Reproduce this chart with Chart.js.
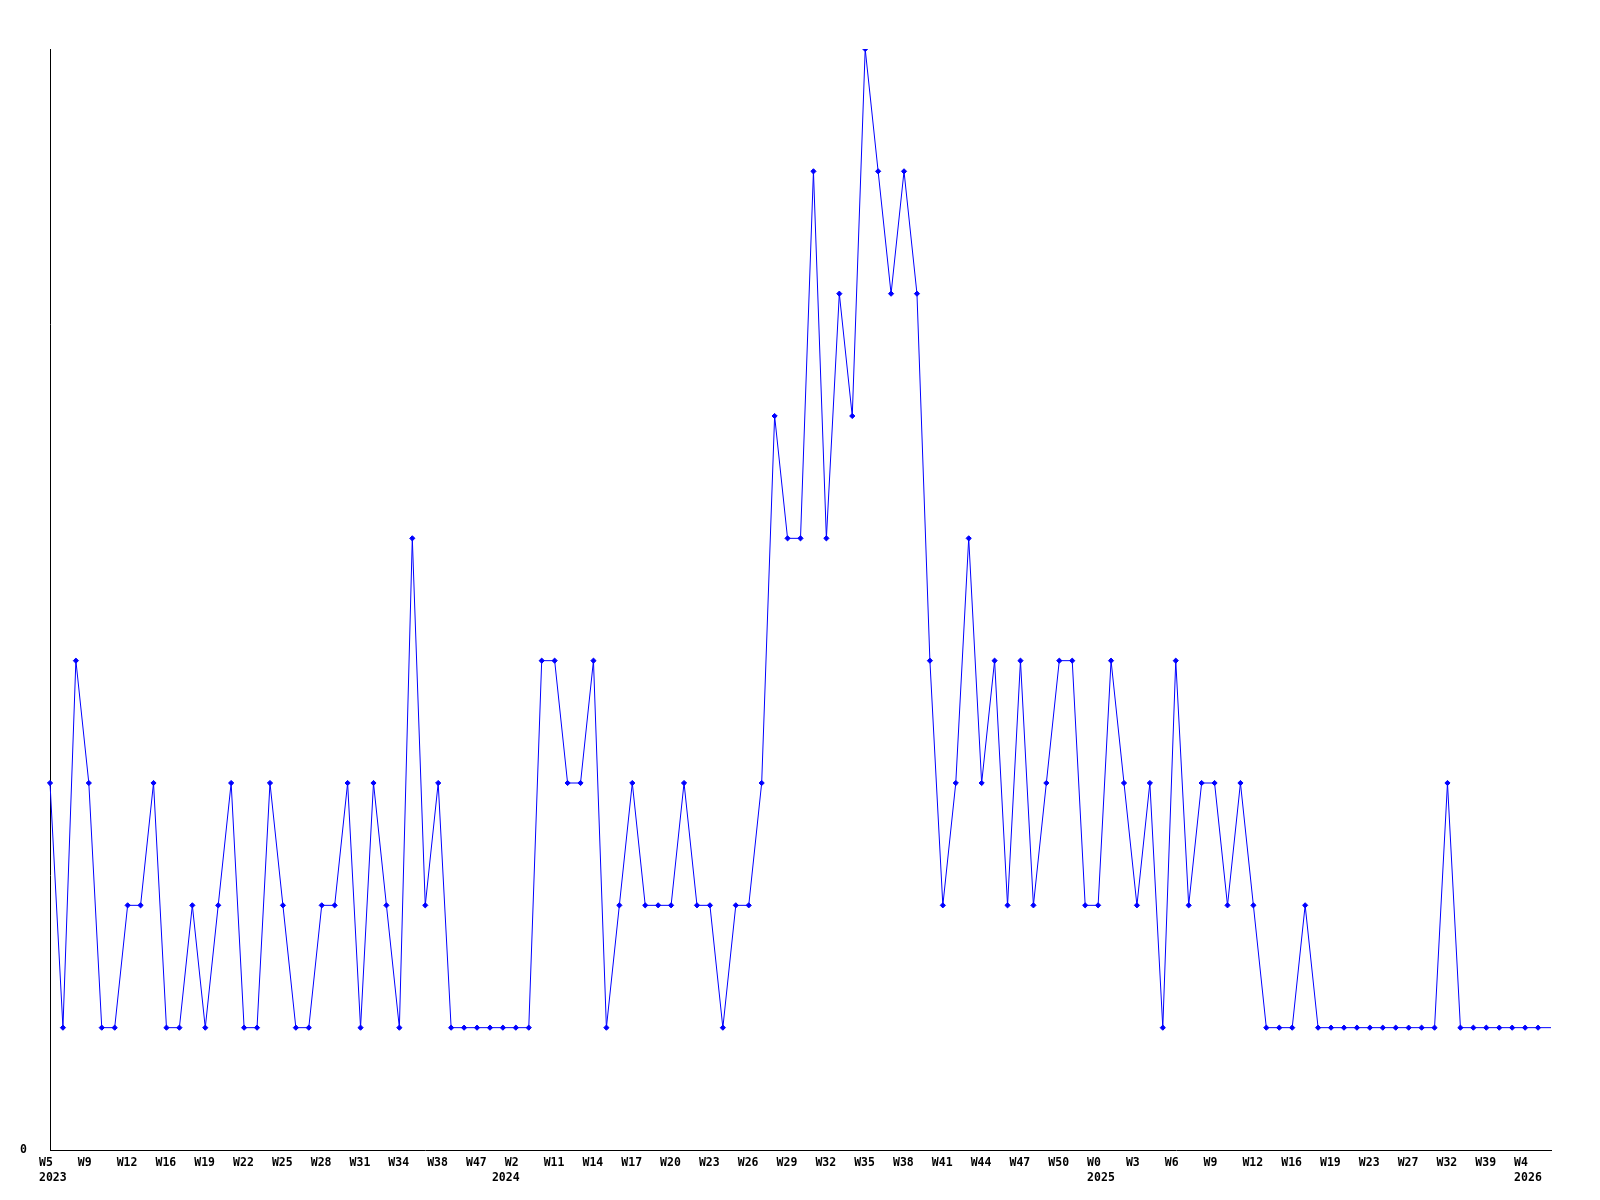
<!DOCTYPE html>
<html>
<head>
<meta charset="utf-8">
<script src="https://cdn.jsdelivr.net/npm/chart.js@4/dist/chart.umd.min.js"></script>
<style>
  html, body { margin: 0; padding: 0; background: #ffffff; }
  #wrap { width: 1600px; height: 1200px; }
</style>
</head>
<body>
<div id="wrap"><canvas id="c" width="1600" height="1200"></canvas></div>
<script>
// Week tick labels: one every third point
const tickLabels = ['W5','W9','W12','W16','W19','W22','W25','W28','W31','W34','W38','W47','W2',
  'W11','W14','W17','W20','W23','W26','W29','W32','W35','W38','W41','W44','W47','W50','W0',
  'W3','W6','W9','W12','W16','W19','W23','W27','W32','W39','W4'];
// Year labels, keyed by the point index where the year starts
const yearLabels = { 0: '2023', 35: '2024', 81: '2025', 114: '2026' };

// Series values (one per point)
const values = [
  3,1,4,3,1,1,2,2,3,1,
  1,2,1,2,3,1,1,3,2,1,
  1,2,2,3,1,3,2,1,5,2,
  3,1,1,1,1,1,1,1,4,4,
  3,3,4,1,2,3,2,2,2,3,
  2,2,1,2,2,3,6,5,5,8,
  5,7,6,9,8,7,8,7,4,2,
  3,5,3,4,2,4,2,3,4,4,
  2,2,4,3,2,3,1,4,2,3,
  3,2,3,2,1,1,1,2,1,1,
  1,1,1,1,1,1,1,1,3,1,
  1,1,1,1,1,1,1
];
const categories = values.map((v, i) => i);

const BLUE = '#0000ff';
const FONT = { family: '"DejaVu Sans Mono", monospace', size: 11.5, weight: 'bold', lineHeight: 1.27 };

new Chart(document.getElementById('c'), {
  type: 'line',
  data: {
    labels: categories,
    datasets: [{
      data: values,
      borderColor: BLUE,
      backgroundColor: BLUE,
      borderWidth: 1,
      tension: 0,
      fill: false,
      pointStyle: 'rectRot',
      pointRadius: ctx => (ctx.dataIndex === values.length - 1 ? 0 : 2.6),
      pointBorderWidth: 1,
      pointBorderColor: BLUE,
      pointBackgroundColor: BLUE
    }]
  },
  options: {
    responsive: false,
    animation: false,
    devicePixelRatio: 1,
    layout: { padding: { top: 49, right: 49, left: 0, bottom: 0 } },
    plugins: { legend: { display: false }, tooltip: { enabled: false } },
    scales: {
      x: {
        type: 'category',
        offset: false,
        grid: { display: false, drawTicks: false },
        border: { display: true, color: '#000000', width: 1 },
        afterFit: s => { s.height = 50; },
        ticks: {
          autoSkip: false,
          maxRotation: 0,
          minRotation: 0,
          align: 'start',
          labelOffset: -11,
          padding: 6,
          color: '#000000',
          font: FONT,
          callback: (val, i) => {
            const k = i / 3;
            const week = (i % 3 === 0 && k < tickLabels.length) ? tickLabels[k] : '';
            const year = yearLabels[i];
            return year ? [week, year] : week;
          }
        }
      },
      y: {
        min: 0,
        max: 9,
        grid: { display: false, drawTicks: false },
        border: { display: true, color: '#000000', width: 1 },
        afterFit: s => { s.width = 50; },
        afterBuildTicks: s => { s.ticks = [{ value: 0 }]; },
        ticks: {
          padding: 23,
          color: '#000000',
          font: FONT,
          callback: v => (v === 0 ? '0' : '')
        }
      }
    }
  }
});
</script>
</body>
</html>
